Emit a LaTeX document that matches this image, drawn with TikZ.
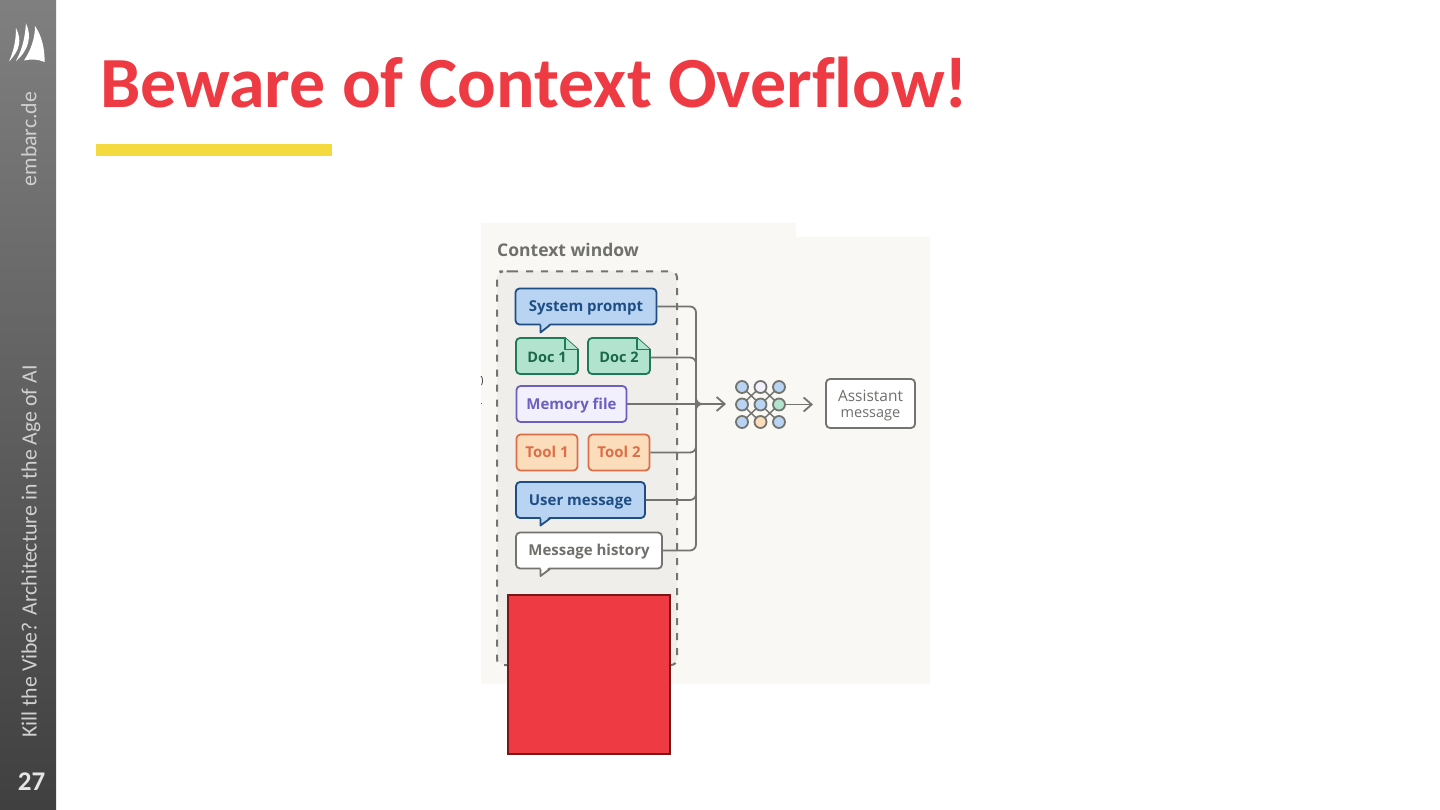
\documentclass[tikz,border=0pt]{standalone}
\usepackage{fontspec}
\setmainfont{Carlito}[Ligatures=NoCommon]
\newfontfamily\diagfont{Open Sans}
\usetikzlibrary{arrows.meta}
\definecolor{titlered}{HTML}{EE3B43}
\definecolor{darkred}{HTML}{7A1518}
\definecolor{baryellow}{HTML}{F5DA3F}
\definecolor{cream}{HTML}{F9F8F4}
\definecolor{panel}{HTML}{F0EEEA}
\definecolor{graybrd}{HTML}{73736F}
\definecolor{graytxt}{HTML}{6F6F6C}
\definecolor{bluefill}{HTML}{B8D4F2}
\definecolor{bluebrd}{HTML}{1F4E85}
\definecolor{greenfill}{HTML}{B2E3CE}
\definecolor{greenbrd}{HTML}{1F7A5A}
\definecolor{purplefill}{HTML}{F1F0FC}
\definecolor{purplebrd}{HTML}{6C5FC0}
\definecolor{orangefill}{HTML}{FBDDBB}
\definecolor{orangebrd}{HTML}{DE6E47}
\definecolor{sidetxt}{HTML}{D0D0D0}
\tikzset{
 x=1pt,y=-1pt,
 box/.style={rectangle,rounded corners=4pt,line width=1.8pt,inner sep=0pt,
   font=\diagfont\bfseries\fontsize{15}{15}\selectfont,anchor=center},
 lbl/.style={text height=10.5pt,text depth=0pt},
 bluebox/.style={box,lbl,draw=bluebrd,fill=bluefill,text=bluebrd},
 purplebox/.style={box,lbl,draw=purplebrd,fill=purplefill,text=purplebrd},
 orangebox/.style={box,lbl,draw=orangebrd,fill=orangefill,text=orangebrd},
 whitebox/.style={box,draw=graybrd,fill=white,text=graytxt},
 doclabel/.style={box,lbl,text=greenbrd!85!black,font=\diagfont\bfseries\fontsize{14.5}{15}\selectfont},
 docshape/.style={draw=greenbrd,fill=greenfill,line width=1.8pt,line join=round},
 conn/.style={draw=graybrd,line width=1.8pt,rounded corners=6pt},
 arrowconn/.style={draw=graybrd,line width=1.8pt,-{Straight Barb[length=8pt,width=14pt]}},
 neuron/.style={circle,draw=graybrd,line width=1.8pt,minimum size=12pt,inner sep=0pt},
 sidelabel/.style={rotate=90,text=sidetxt,inner sep=0pt,font=\fontsize{21.8}{22}\selectfont},
}
\begin{document}
\begin{tikzpicture}
\useasboundingbox (0,0) rectangle (1440,810);
\fill[white] (0,0) rectangle (1440,810);
% sidebar
\shade[top color=black!50,bottom color=black!75] (0,0) rectangle (56,810);
\fill[white] (35,26) .. controls (42,36) and (45,50) .. (44.5,62) .. controls (38,59) and (31,59) .. (24,60.5) .. controls (31,50) and (35,38) .. (35,26) -- cycle;
\fill[white] (26,23.5) .. controls (32,36) and (29,50) .. (16,61) .. controls (23,48) and (25,36) .. (26,23.5) -- cycle;
\fill[white] (16,28) .. controls (22,40) and (20,50) .. (9,61.5) .. controls (14,50) and (16,40) .. (16,28) -- cycle;
\node[sidelabel] (brand) at (29,139) {embarc.de};
\node[sidelabel] (talk) at (31,551.5) {Kill the Vibe? Architecture in the Age of AI};
\node[inner sep=0pt,text=black!10,font=\bfseries\fontsize{27}{27}\selectfont] (page) at (31.5,782) {27};
% title
\node[anchor=west,inner sep=0pt,text=titlered,font=\bfseries\fontsize{72}{73}\selectfont] (title) at (100,83) {Beware of Context Overflow!};
\fill[baryellow] (96,144) rectangle (332,156);
% diagram background
\fill[cream] (481,223) -- (796,223) -- (796,237) -- (930,237) -- (930,683.5) -- (481,683.5) -- cycle;
\draw[black!70,line width=.8pt] (481,376) .. controls (483,378) and (483,382) .. (481.5,385);
\draw[black!60,line width=.8pt] (481,403) -- (482,403);
\node[anchor=west,inner sep=0pt,text=graytxt,font=\diagfont\bfseries\fontsize{17.5}{18}\selectfont] (ctx) at (497,250) {Context window};
\fill[panel,rounded corners=8pt] (497,271) rectangle (677,665);
\draw[graybrd,line width=2pt,dash pattern=on 7pt off 8pt,rounded corners=6pt] (505,271.5) -- (677,271.5) -- (677,665) -- (497,665) -- (497,271.5) -- cycle;
% connectors
\coordinate (merge) at (696,404);
\coordinate (mergeout) at (708,404);
\coordinate (arrowend) at (726,404);
\node[bluebox,minimum width=141pt,minimum height=36pt] (sys) at (586,306.5) {System prompt};
\fill[bluefill] (540.5,323) -- (540.5,332.5) -- (550,323) -- cycle;
\draw[bluebrd,line width=1.8pt,line join=round] (540.5,325) -- (540.5,332.5) -- (550,325);
\draw[docshape] (520,338) -- (565,338) -- (578,349.5) -- (578,370) arc (0:90:4) -- (520,374) arc (90:180:4) -- (516,342) arc (180:270:4) -- cycle;
\draw[docshape,line width=1.4pt] (565,338) -- (565,349.5) -- (578,349.5);
\node[doclabel] (doc1) at (547,357.5) {Doc 1};
\draw[docshape] (592,338) -- (637,338) -- (650,349.5) -- (650,370) arc (0:90:4) -- (592,374) arc (90:180:4) -- (588,342) arc (180:270:4) -- cycle;
\draw[docshape,line width=1.4pt] (637,338) -- (637,349.5) -- (650,349.5);
\node[doclabel,minimum width=62pt,minimum height=36pt] (doc2) at (619,357.5) {Doc 2};
\node[purplebox,minimum width=110pt,minimum height=36pt] (mem) at (571.5,404) {Memory file};
\node[orangebox,minimum width=61pt,minimum height=36pt] (tool1) at (547,452.5) {Tool 1};
\node[orangebox,minimum width=61pt,minimum height=36pt] (tool2) at (619,452.5) {Tool 2};
\node[bluebox,minimum width=129pt,minimum height=36pt] (user) at (580.5,500) {User message};
\fill[bluefill] (540.5,516) -- (540.5,525.5) -- (550,516) -- cycle;
\draw[bluebrd,line width=1.8pt,line join=round] (540.5,518.5) -- (540.5,525.5) -- (550,518.5);
\node[whitebox,lbl,minimum width=146pt,minimum height=36pt] (hist) at (589,550.5) {Message history};
\fill[white] (540.5,566) -- (540.5,576) -- (550,566) -- cycle;
\draw[graybrd,line width=1.8pt,line join=round] (540.5,569) -- (540.5,576) -- (550,569);
\draw[conn] (sys.east) -| (merge) -- (mergeout);
\draw[conn] (doc2.east) -| (merge);
\draw[conn] (tool2.east) -| (merge);
\draw[conn] (user.east) -| (merge);
\draw[conn] (hist.east) -| (merge) -- (mergeout);
\draw[arrowconn] (mem.east) -- (arrowend);
% network
\foreach \n/\x/\y in {a/742/387,b/760.5/387,c/779/387,d/742/404.5,e/760.5/404.5,f/779/404.5,g/742/422,h/760.5/422,i/779/422}
  \coordinate (p\n) at (\x,\y);
\foreach \s/\t in {a/e,b/d,b/f,c/e,d/h,e/g,e/i,f/h}
  \draw[graybrd,line width=1.5pt] (p\s) -- (p\t);
\foreach \n/\c in {a/bluefill,b/purplefill,c/bluefill,d/bluefill,e/bluefill,f/greenfill,g/bluefill,h/orangefill,i/bluefill}
  \node[neuron,fill=\c] (n\n) at (p\n) {};
% assistant
\node[whitebox,minimum width=89pt,minimum height=49pt,align=center,font=\diagfont\fontsize{15.5}{16}\selectfont] (asst) at (870.5,403.5) {\rule{0pt}{14.5pt}Assistant\\[0pt]{\fontsize{14.5}{16}\selectfont message}};
\draw[arrowconn] (nf.east) -- (813,404.5);
% red box
\draw[fill=titlered,draw=darkred,line width=2pt] (507.5,595) rectangle (670,754);
\end{tikzpicture}
\end{document}
